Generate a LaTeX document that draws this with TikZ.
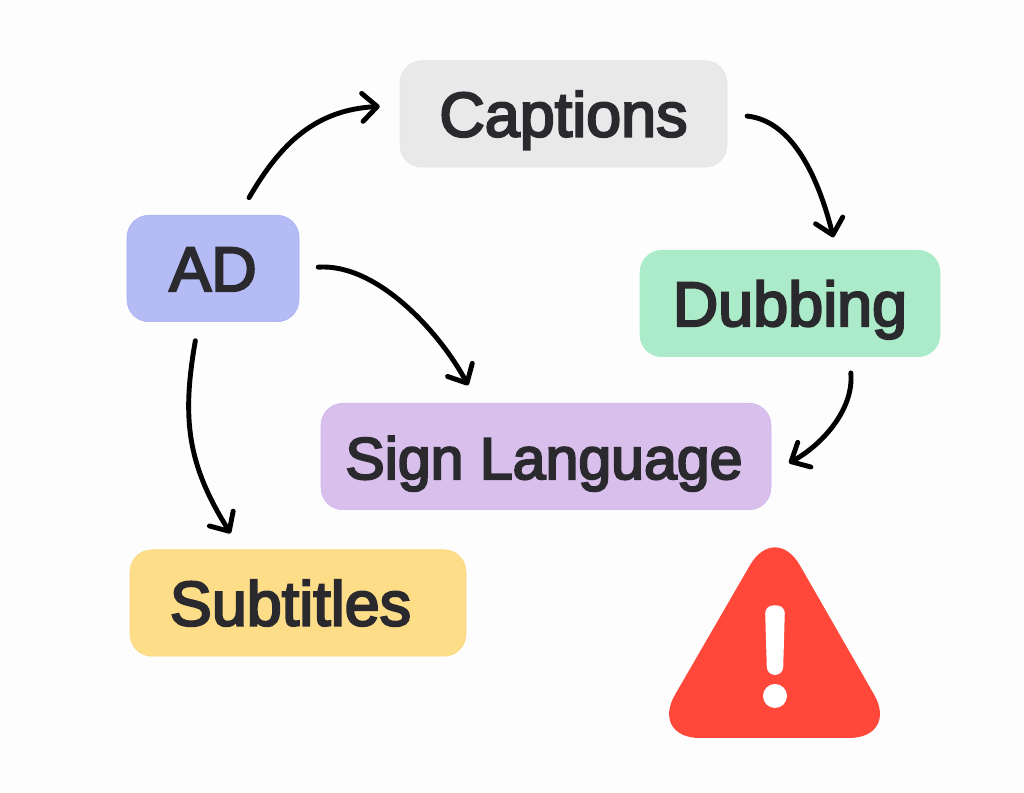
\documentclass[tikz,border=0pt]{standalone}
\usepackage{fontspec}
\newfontfamily\labelfont[FakeBold=3.5]{Liberation Sans}
\usetikzlibrary{arrows.meta,positioning,calc}
\definecolor{paper}{HTML}{FDFDFD}
\definecolor{ink}{HTML}{2A2A2E}
\definecolor{warnred}{HTML}{FF483A}

\begin{document}
\begin{tikzpicture}[
				box/.style={rectangle,rounded corners=0.44cm,draw,line width=0.3pt,minimum height=2.13cm,inner sep=0pt,text=ink,text height=0.9cm,text depth=0pt,font=\labelfont\fontsize{35.8}{36}\selectfont},
				adbox/.style={box,fill=adfill,draw=adfill!92!blue,minimum width=3.44cm},
				capbox/.style={box,fill=capfill,draw=capfill!98!black,minimum width=6.54cm},
				dubbox/.style={box,fill=dubfill,draw=dubfill!95!green,minimum width=6cm},
				signbox/.style={box,fill=signfill,draw=signfill!95!blue,minimum width=9cm,font=\labelfont\fontsize{33.6}{36}\selectfont},
				subbox/.style={box,fill=subfill,draw=subfill!95!orange,minimum width=6.72cm},
				link/.style={-{Straight Barb[length=3mm,width=5.6mm,round]},black,line width=0.98mm,line cap=round}
				]
				\definecolor{adfill}{HTML}{B4BBF5}
				\definecolor{capfill}{HTML}{E9E9E9}
				\definecolor{dubfill}{HTML}{ACEBCA}
				\definecolor{signfill}{HTML}{D9BFEC}
				\definecolor{subfill}{HTML}{FDDD88}
				\useasboundingbox[fill=paper] (0,0) rectangle (20.48,15.86);
				
				\node[adbox] (ad) at (4.26,10.49) {AD};
				\node[capbox] (cap) at (11.27,13.58) {Captions};
				\node[dubbox] (dub) at (15.8,9.79) {Dubbing};
				\node[signbox] (sign) at (10.92,6.73) {Sign Language\rule{0.08cm}{0pt}};
				\node[subbox] (sub) at (5.96,3.8) {Subtitles\rule{0.3cm}{0pt}};
				
				\draw[link,shorten <=0.4cm,shorten >=0.4cm] (ad.64) to[out=60,in=183,looseness=1.1] (cap.177);
				\draw[link,shorten <=0.4cm,shorten >=0.26cm] (cap.east) to[out=-6,in=104] (dub.49);
				\draw[link,shorten <=0.32cm,shorten >=0.4cm] (dub.-42) to[out=-85,in=28] (sign.-4);
				\draw[link,shorten <=0.38cm,shorten >=0.4cm] (ad.east) to[out=4,in=118,looseness=0.9] (sign.142);
				\draw[link,shorten <=0.38cm,shorten >=0.38cm] (ad.-105) to[out=-100,in=122,looseness=1.1] (sub.137);
				
				\fill[warnred,rounded corners=1cm] (13.0,1.1) -- (15.5,5.42) -- (17.98,1.1) -- cycle;
				\fill[white,rounded corners=0.16cm] (15.3,3.75) -- (15.7,3.75) -- (15.66,2.36) -- (15.34,2.36) -- cycle;
				\fill[white] (15.5,1.94) circle (0.24);
			\end{tikzpicture}
\end{document}
